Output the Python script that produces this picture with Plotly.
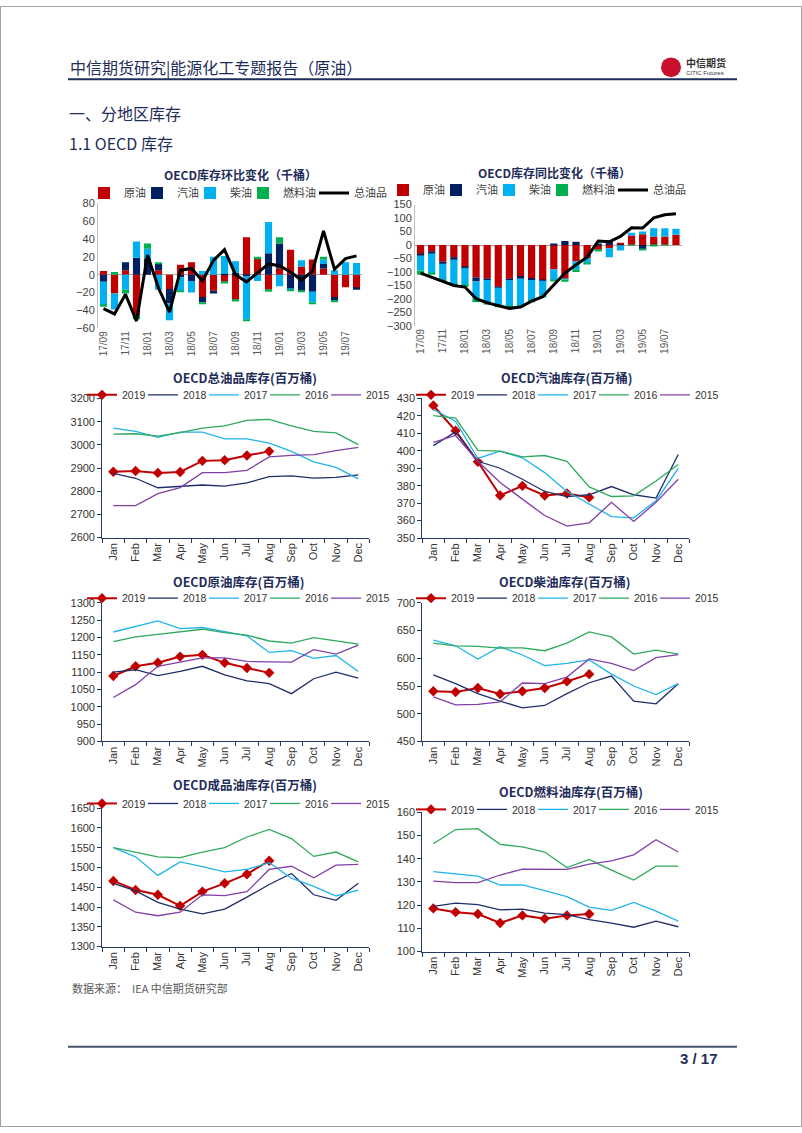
import plotly.graph_objects as go

W, H = 802, 1133
LAT = "Liberation Sans, Noto Sans CJK SC, sans-serif"
CJK = "Noto Sans CJK SC, Liberation Sans, sans-serif"
NAVY_TXT = "#1f2d5a"


def fx(x):
    return x / W


def fy(y):
    return 1 - y / H


# ---------------- data ----------------
bar_months = ["17/09", "17/10", "17/11", "17/12",
              "18/01", "18/02", "18/03", "18/04", "18/05", "18/06",
              "18/07", "18/08", "18/09", "18/10", "18/11", "18/12",
              "19/01", "19/02", "19/03", "19/04", "19/05", "19/06",
              "19/07", "19/08"]
bar_tick_labels = bar_months[::2]
bar_series_names = ["原油", "汽油", "柴油", "燃料油", "总油品"]

mom_crude = [4, -21, 5, -45, 0, 5, -16, 11, 14, -25, -18, -8, -28, 42, 18, -17, 7, 28, 9, 17, 7, -25, -14, -15]
mom_gasoline = [-8, 0, 9, 19, 18, 7, -16, -3, -7, -6, -3, 1, 2, -2, 0, 24, 28, -16, -18, -19, 5, -4, 0, -2]
mom_diesel = [-26, -18, -17, 18, 11, -17, -19, -15, -13, 4, 20, 20, 13, -48, -7, 35, -13, -1, 7, -12, 5, 5, 14, 13]
mom_fuel = [-2, 3, -4, -5, 6, 2, 0, -1, 0, -2, 0, -2, -2, -1, 2, -2, 7, -1, -1, -2, 3, -2, 0, 0]
mom_total = [-38, -44, -22, -52, 22, -15, -42, 5, 7, -7, 16, 28, 0, -8, 2, 12, 10, 3, -6, 4, 49, 6, 18, 21]

yoy_crude = [-34, -25, -62, -45, -83, -120, -125, -155, -125, -115, -122, -130, -90, -125, -60, -48, -18, -12, 8, 35, 40, 32, 32, 38]
yoy_gasoline = [-6, -7, -8, -10, -2, -15, -5, -3, -6, -10, -8, -3, 3, 15, 12, 0, 2, 18, -2, 0, -15, 0, 0, 0]
yoy_diesel = [-55, -73, -60, -90, -65, -65, -85, -65, -97, -103, -75, -55, -40, -3, -30, -20, 0, -33, -18, 10, 10, 30, 30, 22]
yoy_fuel = [-15, -5, -5, -5, -5, -12, -3, -8, -7, -3, -7, -4, -5, -8, -10, -2, -3, 0, 0, -2, -5, -3, -2, 0]
yoy_total = [-104, -120, -135, -150, -156, -199, -214, -224, -235, -230, -208, -192, -147, -104, -73, -45, 15, 12, 32, 64, 63, 101, 112, 116]

months = ["Jan", "Feb", "Mar", "Apr", "May", "Jun", "Jul", "Aug", "Sep", "Oct", "Nov", "Dec"]
years = ["2019", "2018", "2017", "2016", "2015"]

total_2019 = [2884, 2887, 2879, 2883, 2931, 2934, 2954, 2972]
total_2018 = [2877, 2856, 2815, 2820, 2827, 2822, 2836, 2863, 2866, 2857, 2860, 2871]
total_2017 = [3072, 3058, 3032, 3055, 3055, 3026, 3026, 3008, 2972, 2927, 2903, 2853]
total_2016 = [3046, 3048, 3038, 3053, 3072, 3082, 3106, 3110, 3082, 3058, 3052, 3001]
total_2015 = [2738, 2738, 2790, 2816, 2880, 2880, 2890, 2948, 2955, 2958, 2975, 2989]

gaso_2019 = [426, 411.5, 393.7, 374.4, 379.9, 374.4, 375.5, 373.3]
gaso_2018 = [403, 410.8, 394, 390, 383.7, 376.7, 373.7, 374.8, 379.5, 374.8, 372.9, 397.9]
gaso_2017 = [423.8, 416.8, 395.6, 399.8, 396, 387.5, 376.7, 369.5, 362.3, 361.6, 371.4, 389.9]
gaso_2016 = [420.2, 418.7, 400.3, 399.8, 396.5, 397.3, 394, 379.3, 373.8, 374.2, 382.7, 392.2]
gaso_2015 = [404.9, 408.8, 394, 381.8, 372.3, 362.9, 356.8, 358.7, 370.5, 359.5, 370.5, 383.7]

crude_2019 = [1089, 1117, 1127, 1145, 1150, 1127, 1112, 1098]
crude_2018 = [1100, 1107, 1090, 1102, 1117, 1092, 1075, 1067, 1038, 1081, 1100, 1083]
crude_2017 = [1216, 1231, 1248, 1226, 1229, 1217, 1205, 1157, 1162, 1140, 1148, 1102]
crude_2016 = [1188, 1202, 1209, 1216, 1224, 1214, 1207, 1190, 1184, 1200, 1190, 1181]
crude_2015 = [1027, 1064, 1117, 1129, 1141, 1141, 1131, 1130, 1129, 1165, 1152, 1178]

diesel_2019 = [540.5, 539.3, 546.4, 535.7, 540.5, 546.4, 558.3, 571.4]
diesel_2018 = [570.2, 554.2, 536.3, 522.6, 510.7, 514.9, 536.3, 555.9, 567.9, 522.6, 517.9, 554.2]
diesel_2017 = [632.7, 622.6, 598.8, 620.8, 606, 586.9, 591, 597, 571.4, 550, 534.5, 554.2]
diesel_2016 = [627.4, 622.6, 621.4, 618.5, 619, 613.7, 627.4, 647.6, 638.7, 607.7, 614.9, 607.7]
diesel_2015 = [530.4, 516.1, 516.7, 521.4, 555.4, 554.2, 566.1, 598.8, 591, 577.9, 601.2, 606.5]

prod_2019 = [1466, 1443, 1431, 1403, 1439, 1460, 1483, 1517]
prod_2018 = [1460, 1441, 1412, 1395, 1383, 1395, 1425, 1457, 1485, 1431, 1417, 1460]
prod_2017 = [1550, 1527, 1480, 1514, 1502, 1489, 1495, 1512, 1473, 1452, 1428, 1443]
prod_2016 = [1550, 1539, 1527, 1525, 1539, 1550, 1577, 1596, 1573, 1528, 1539, 1514]
prod_2015 = [1418, 1387, 1378, 1387, 1431, 1429, 1439, 1495, 1503, 1474, 1506, 1508]

fuel_2019 = [118.6, 117, 116.2, 112.3, 115.6, 114.2, 115.6, 116.2]
fuel_2018 = [119.5, 120.9, 120.2, 118, 118.3, 116.6, 115.9, 113.8, 112.3, 110.5, 113.1, 110.7]
fuel_2017 = [134.5, 133.4, 132.5, 128.7, 128.7, 126.3, 123.7, 119.2, 117.8, 121.2, 117.4, 113.1]
fuel_2016 = [146.5, 152.6, 153, 146.2, 145.1, 142.9, 136.2, 139.7, 135.1, 130.8, 136.8, 136.8]
fuel_2015 = [130.4, 129.7, 129.7, 133, 135.5, 135.4, 135.4, 137.7, 139.1, 141.7, 148.2, 142.9]

# ---------------- styles ----------------
BAR_COLORS = ["#c00000", "#002060", "#00b0f0", "#00b050"]
YEAR_COLORS = ["#c00000", "#1f2d6b", "#1fb4ec", "#2eaa5a", "#8040a8"]
AXIS_NAVY = "#203864"

fig = go.Figure()

# ---------------- bar charts ----------------
bar_charts = [
    dict(n=1, title="OECD库存环比变化（千桶）",
         data=[mom_crude, mom_gasoline, mom_diesel, mom_fuel], total=mom_total,
         x=(98, 362), y=(199.3, 325.7), rng=(-60, 80), dtick=20,
         tx=240, ty=170, lx=84, ly=189),
    dict(n=2, title="OECD库存同比变化（千桶）",
         data=[yoy_crude, yoy_gasoline, yoy_diesel, yoy_fuel], total=yoy_total,
         x=(415, 681.5), y=(200.7, 323.3), rng=(-300, 150), dtick=50,
         tx=554, ty=168, lx=383, ly=186),
]
bar_legend_w = [8, 8, 8, 26, 36]

layout_axes = {}
annotations = []
legends = {}

for c in bar_charts:
    n = c["n"]
    xa, ya = ("x" if n == 1 else f"x{n}"), ("y" if n == 1 else f"y{n}")
    lg = "legend" if n == 1 else f"legend{n}"
    for i, vals in enumerate(c["data"]):
        fig.add_trace(go.Bar(x=bar_months, y=vals, name=bar_series_names[i],
                             marker=dict(color=BAR_COLORS[i], line=dict(width=0)),
                             xaxis=xa, yaxis=ya, legend=lg,
                             legendwidth=bar_legend_w[i]))
    fig.add_trace(go.Scatter(x=bar_months, y=c["total"], name=bar_series_names[4],
                             mode="lines", line=dict(color="black", width=3),
                             xaxis=xa, yaxis=ya, legend=lg, legendwidth=bar_legend_w[4]))
    layout_axes["xaxis" if n == 1 else f"xaxis{n}"] = dict(
        domain=[fx(c["x"][0]), fx(c["x"][1])], anchor=ya, type="category",
        range=[-0.5, len(bar_months) - 0.5], tickmode="array",
        tickvals=bar_tick_labels, ticktext=bar_tick_labels, tickangle=-90,
        showline=False, showgrid=False, zeroline=False, ticks="",
        tickfont=dict(size=10, color="#595959", family=LAT))
    layout_axes["yaxis" if n == 1 else f"yaxis{n}"] = dict(
        domain=[fy(c["y"][1]), fy(c["y"][0])], anchor=xa,
        range=list(c["rng"]), dtick=c["dtick"], showgrid=False,
        showline=True, linecolor="#bfbfbf", linewidth=1,
        zeroline=True, zerolinecolor="#a6a6a6", zerolinewidth=1, ticks="",
        tickfont=dict(size=11, color="#404040", family=LAT))
    annotations.append(dict(text="<b>" + c["title"] + "</b>", x=fx(c["tx"]), y=fy(c["ty"]),
                            xref="paper", yref="paper", showarrow=False,
                            xanchor="center", yanchor="middle",
                            font=dict(size=12, color=NAVY_TXT, family=CJK)))
    legends[lg] = dict(orientation="h", x=fx(c["lx"]), y=fy(c["ly"]),
                       xanchor="left", yanchor="middle", bgcolor="rgba(0,0,0,0)",
                       itemwidth=30, traceorder="normal",
                       font=dict(size=11, color="#404040", family=CJK))

# ---------------- line charts ----------------
line_charts = [
    dict(n=3, title="OECD总油品库存(百万桶)",
         data=[total_2019, total_2018, total_2017, total_2016, total_2015],
         x=(102.2, 369.4), y=(396.7, 537.3), rng=(2600, 3200), dtick=100,
         tx=245, ty=375, lx=82, ly=393),
    dict(n=4, title="OECD汽油库存(百万桶)",
         data=[gaso_2019, gaso_2018, gaso_2017, gaso_2016, gaso_2015],
         x=(422.2, 689.4), y=(396.7, 537.7), rng=(350, 430), dtick=10,
         tx=566, ty=375, lx=411, ly=393),
    dict(n=5, title="OECD原油库存(百万桶)",
         data=[crude_2019, crude_2018, crude_2017, crude_2016, crude_2015],
         x=(102.2, 369.4), y=(603.3, 743.3), rng=(900, 1300), dtick=50,
         tx=239, ty=582, lx=82, ly=598.5),
    dict(n=6, title="OECD柴油库存(百万桶)",
         data=[diesel_2019, diesel_2018, diesel_2017, diesel_2016, diesel_2015],
         x=(422.2, 689.4), y=(603.3, 743.3), rng=(450, 700), dtick=50,
         tx=564, ty=582, lx=411, ly=598.5),
    dict(n=7, title="OECD成品油库存(百万桶)",
         data=[prod_2019, prod_2018, prod_2017, prod_2016, prod_2015],
         x=(102.2, 369.4), y=(810.7, 950.7), rng=(1300, 1650), dtick=50,
         tx=245, ty=787, lx=82, ly=806),
    dict(n=8, title="OECD燃料油库存(百万桶)",
         data=[fuel_2019, fuel_2018, fuel_2017, fuel_2016, fuel_2015],
         x=(422.2, 689.4), y=(815, 955.7), rng=(100, 160), dtick=10,
         tx=571, ty=794, lx=411, ly=812),
]
line_legend_w = [16, 16, 16, 16, 28]

for c in line_charts:
    n = c["n"]
    xa, ya, lg = f"x{n}", f"y{n}", f"legend{n}"
    for i, vals in enumerate(c["data"]):
        if i == 0:
            fig.add_trace(go.Scatter(x=months[:len(vals)], y=vals, name=years[i],
                                     mode="lines+markers",
                                     line=dict(color=YEAR_COLORS[i], width=2),
                                     marker=dict(symbol="diamond", size=8, color=YEAR_COLORS[i]),
                                     xaxis=xa, yaxis=ya, legend=lg,
                                     legendwidth=line_legend_w[i]))
        else:
            fig.add_trace(go.Scatter(x=months[:len(vals)], y=vals, name=years[i],
                                     mode="lines",
                                     line=dict(color=YEAR_COLORS[i], width=1.3),
                                     xaxis=xa, yaxis=ya, legend=lg,
                                     legendwidth=line_legend_w[i]))
    layout_axes[f"xaxis{n}"] = dict(
        domain=[fx(c["x"][0]), fx(c["x"][1])], anchor=ya, type="category",
        categoryorder="array", categoryarray=months,
        range=[-0.5, 11.5], tickangle=-90, showline=True, linecolor=AXIS_NAVY,
        linewidth=1, ticks="outside", tickson="boundaries", ticklen=4,
        tickcolor=AXIS_NAVY, showgrid=False, zeroline=False,
        tickfont=dict(size=11, color="#333333", family=LAT))
    layout_axes[f"yaxis{n}"] = dict(
        domain=[fy(c["y"][1]), fy(c["y"][0])], anchor=xa,
        range=list(c["rng"]), dtick=c["dtick"], showgrid=False, zeroline=False,
        showline=True, linecolor=AXIS_NAVY, linewidth=1, ticks="outside",
        ticklen=4, tickcolor=AXIS_NAVY,
        tickfont=dict(size=11, color="#333333", family=LAT))
    annotations.append(dict(text="<b>" + c["title"] + "</b>", x=fx(c["tx"]), y=fy(c["ty"]),
                            xref="paper", yref="paper", showarrow=False,
                            xanchor="center", yanchor="middle",
                            font=dict(size=12.5, color=NAVY_TXT, family=CJK)))
    legends[lg] = dict(orientation="h", x=fx(c["lx"]), y=fy(c["ly"]),
                       xanchor="left", yanchor="middle", bgcolor="rgba(0,0,0,0)",
                       itemwidth=30, traceorder="normal",
                       font=dict(size=10.5, color="#333333", family=LAT))

# ---------------- page text ----------------
def txt(s, x, y, size, color, anchor="left", family=CJK):
    annotations.append(dict(text=s, x=fx(x), y=fy(y), xref="paper", yref="paper",
                            showarrow=False, xanchor=anchor, yanchor="middle",
                            font=dict(size=size, color=color, family=family)))


txt("中信期货研究|能源化工专题报告（原油）", 68, 62, 16, NAVY_TXT)
txt("一、分地区库存", 67, 108, 16, NAVY_TXT)
txt("1.1 OECD 库存", 67, 138, 16, NAVY_TXT)
txt("数据来源：  IEA 中信期货研究部", 70, 993, 11, "#595959")
txt("<b>3 / 17</b>", 720, 1064, 15, NAVY_TXT, anchor="right", family=LAT)
txt("<b>中信期货</b>", 684, 57, 10, "#333333")
txt("CITIC Futures", 684, 68, 6, "#333333", family=LAT)

shapes = [
    dict(type="line", xref="paper", yref="paper", x0=fx(68), x1=fx(737), y0=fy(74), y1=fy(74),
         line=dict(color=NAVY_TXT, width=2)),
    dict(type="line", xref="paper", yref="paper", x0=fx(68), x1=fx(737), y0=fy(1052), y1=fy(1052),
         line=dict(color="#44546a", width=2)),
    dict(type="circle", xref="paper", yref="paper", x0=fx(661), x1=fx(681), y0=fy(72), y1=fy(52),
         fillcolor="#c8102e", line=dict(width=0)),
    dict(type="rect", xref="paper", yref="paper", x0=fx(0.5), x1=fx(801.5), y0=fy(1132.5), y1=fy(0.5),
         line=dict(color="#a0a0a0", width=1)),
]

fig.update_layout(width=W, height=H, margin=dict(l=0, r=0, t=0, b=0),
                  paper_bgcolor="white", plot_bgcolor="white",
                  barmode="relative", bargap=0.35, showlegend=True,
                  annotations=annotations, shapes=shapes,
                  font=dict(family=LAT), **layout_axes, **legends)

fig.write_html("out.html")
